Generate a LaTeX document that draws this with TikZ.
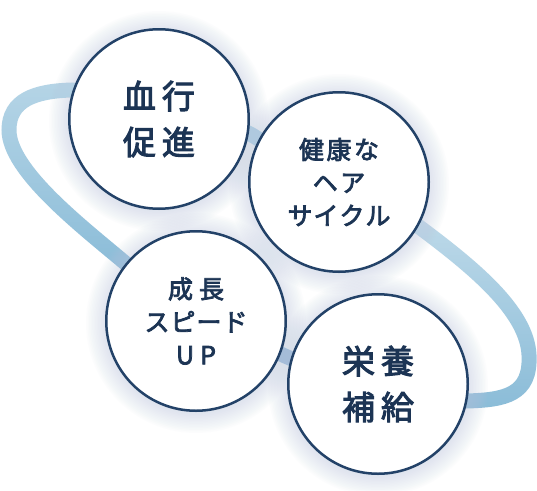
\documentclass[tikz,border=0pt]{standalone}
\usepackage{fontspec}
\newfontfamily\jp[FakeBold=3]{Noto Sans CJK JP}
\usetikzlibrary{fadings}
\definecolor{navy}{HTML}{234268}
\definecolor{txt}{HTML}{1C3454}
\definecolor{bandc}{HTML}{8ABCD8}
\definecolor{glowc}{HTML}{C6D0E3}
\tikzfading[name=lightleft, top color=transparent!62, bottom color=transparent!100]
\tikzfading[name=lightright, top color=transparent!55, bottom color=transparent!100]
\tikzset{
  bubble/.style={circle, draw=navy, line width=2.5pt, fill=white, minimum size=179.5pt,
    inner sep=0pt, text=txt, align=center},
  bigtext/.style={font=\jp\fontsize{33}{46}\selectfont},
  midtext/.style={font=\jp\fontsize{25}{33}\selectfont},
  band/.style={draw=bandc, line width=15pt},
  halo/.style={fill=glowc, opacity=0.045},
}
\begin{document}
\begin{tikzpicture}[x=1pt,y=-1pt]
\useasboundingbox (0,0) rectangle (537,490);
\fill[white] (0,0) rectangle (537,490);
\coordinate (c1) at (159,119);
\coordinate (c2) at (339,182);
\coordinate (c3) at (196,321);
\coordinate (c4) at (378,384);
% band loop
\path[band] (72,90) .. controls (150,92) and (220,118) .. (252,135)
  .. controls (300,165) and (370,195) .. (418,226)
  .. controls (470,265) and (527,310) .. (529,355)
  .. controls (531,395) and (505,400) .. (466,401)
  .. controls (400,400) and (330,375) .. (285,356)
  .. controls (230,330) and (170,300) .. (124,262)
  .. controls (80,225) and (9,170) .. (9,130)
  .. controls (9,100) and (35,91) .. (72,90) -- cycle;
\fill[white, path fading=lightleft] (0,78) rectangle (150,275);
\fill[white, path fading=lightright] (400,215) rectangle (537,412);
\fill[white, opacity=0.2] (228,112) rectangle (278,158);
% halos
\foreach \c in {c1,c2,c3,c4}{
  \foreach \k in {1,...,14}{
    \fill[halo] ([yshift=-2pt]\c) circle[radius={89pt+1.5pt*\k}];
  }
}
% circles
\node[bubble, bigtext] (n1) at (c1) {血\hspace{6pt}行\\促\hspace{6pt}進};
\node[bubble, midtext] (n2) at (c2) {健\hspace{2.5pt}康\hspace{2.5pt}な\\ヘ\hspace{2.5pt}ア\\サ\hspace{1pt}イ\hspace{1pt}ク\hspace{1pt}ル};
\node[bubble, midtext] (n3) at (c3) {成\hspace{6pt}長\\ス\hspace{1pt}ピ\hspace{1pt}ー\hspace{1pt}ド\\U\hspace{6pt}P};
\node[bubble, bigtext] (n4) at (c4) {栄\hspace{6pt}養\\補\hspace{6pt}給};
\end{tikzpicture}
\end{document}
